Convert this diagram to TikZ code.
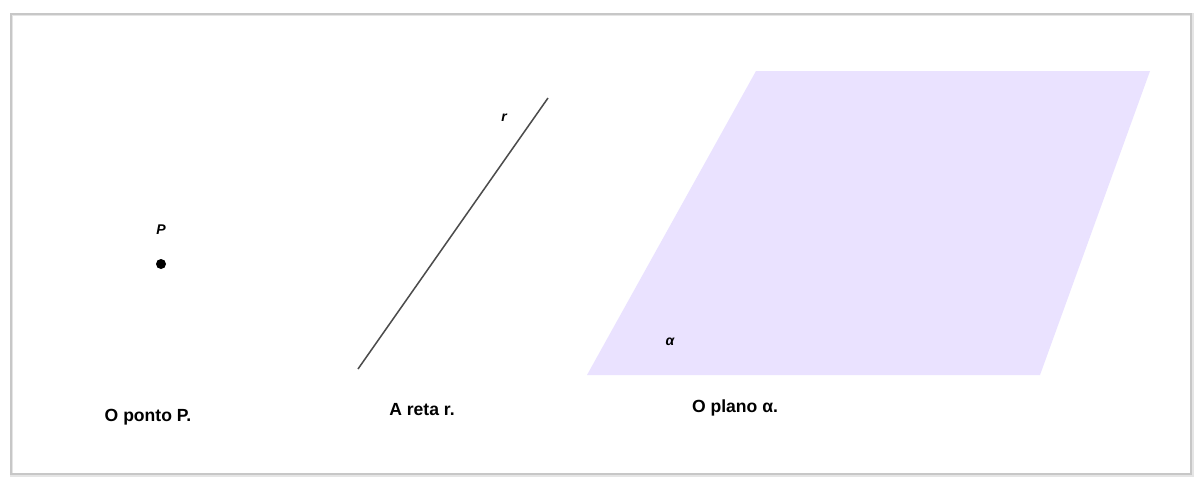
\documentclass[tikz,border=0pt]{standalone}
\usepackage{fontspec}
\setmainfont{Liberation Sans}
\usepackage{xcolor}
\definecolor{planoLilas}{RGB}{234,226,255}
\definecolor{retaCinza}{gray}{0.3}
\usepackage{tikz}

\tikzset{
  legenda/.style={font=\fontsize{15}{18}\selectfont\bfseries, anchor=base},
  rotulo/.style={font=\fontsize{12}{14}\selectfont\bfseries\itshape, anchor=base},
}

\begin{document}
\begin{tikzpicture}[x=0.03cm, y=-0.03cm]
  \useasboundingbox (0,0) rectangle (1194,477);
  % moldura com sombra
  \draw[black!10, line width=3pt] (12,15) rectangle (1192,475);
  \draw[black!22, line width=1.2pt] (11,14) rectangle (1191,474);
  \fill[white] (12.5,15.5) rectangle (1189.5,472.5);

  % o ponto
  \node[circle, fill=black, inner sep=0pt, minimum size=0.3cm] (P) at (161,264) {};
  \node[rotulo] (Plabel) at (161,234) {P};
  \node[legenda] (ponto) at (148,421) {O ponto P.};

  % a reta
  \coordinate (r1) at (358,369);
  \coordinate (r2) at (548,98);
  \draw[retaCinza, line width=1.3pt] (r1) -- (r2);
  \node[rotulo] (rlabel) at (504,121) {r};
  \node[legenda] (reta) at (422,415) {A reta r.};

  % o plano
  \coordinate (a1) at (587,375);
  \coordinate (a2) at (1040,375);
  \coordinate (a3) at (1150,71);
  \coordinate (a4) at (756,71);
  \fill[planoLilas] (a1) -- (a2) -- (a3) -- (a4) -- cycle;
  \node[rotulo] (alabel) at (670,345) {α};
  \node[legenda] (plano) at (735,412) {O plano α.};
\end{tikzpicture}
\end{document}
